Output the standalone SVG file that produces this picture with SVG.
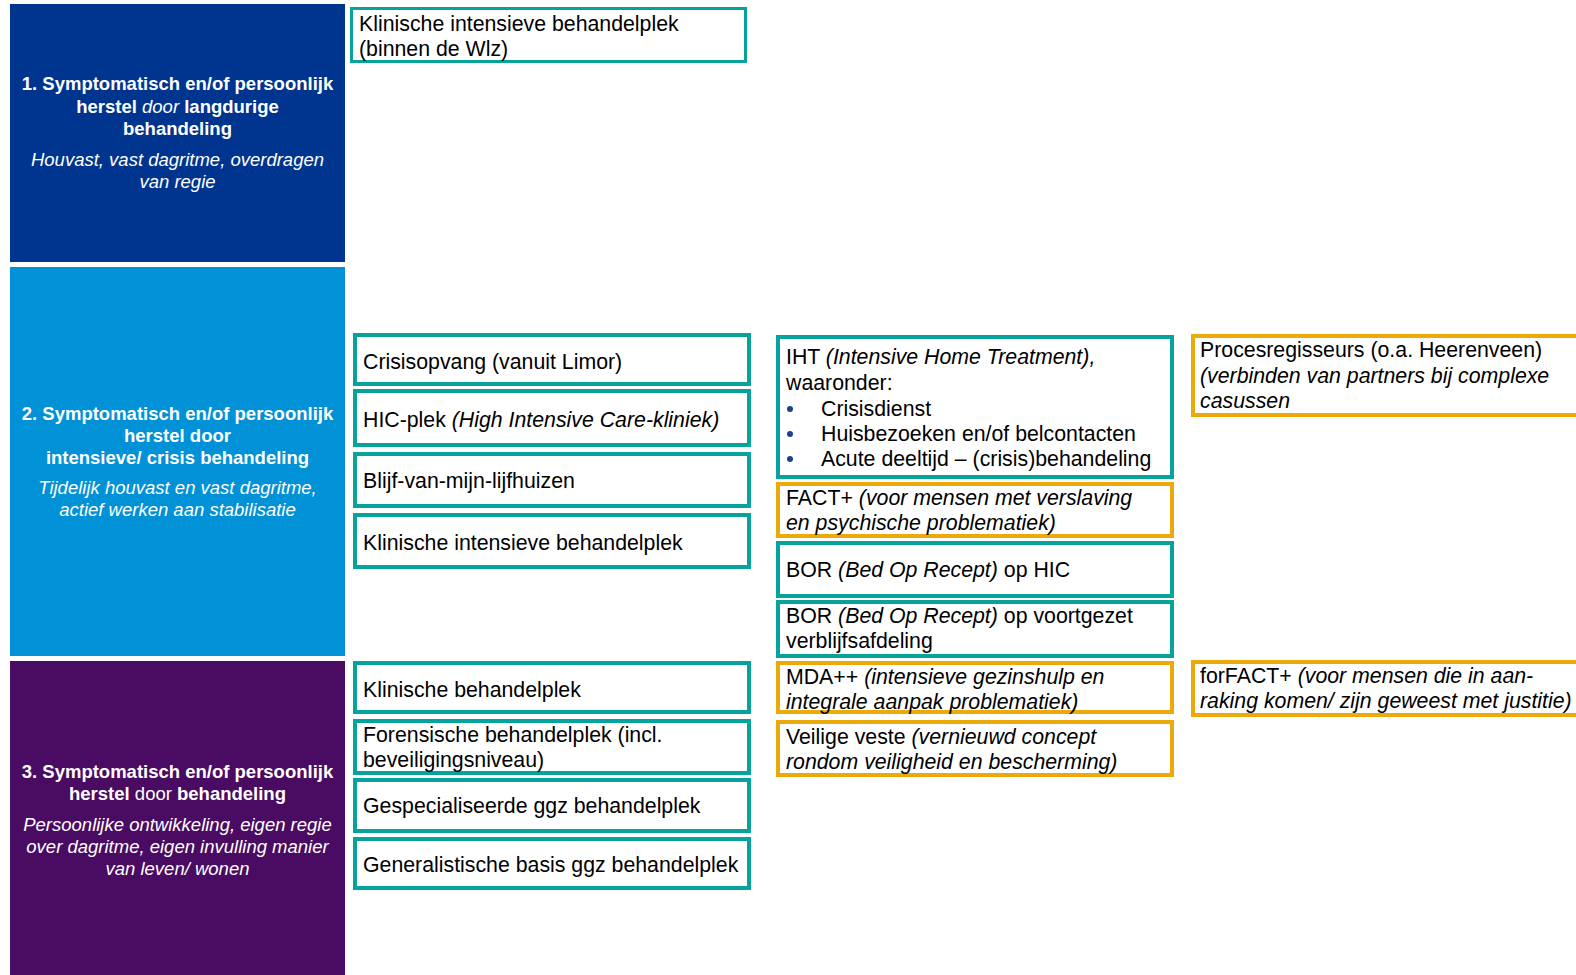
<svg xmlns="http://www.w3.org/2000/svg" width="1576" height="975" viewBox="0 0 1576 975">
<style>
text{font-family:"Liberation Sans",Arial,Helvetica,sans-serif;}
.pt{fill:#fff;font-size:18.5px;text-anchor:middle;}
.b{font-weight:bold;}
.i{font-style:italic;}
.n{font-weight:normal;}
.bx{fill:#fff;stroke-width:4;}
.teal{stroke:#06A39C;}
.org{stroke:#EBAA0A;}
.t{fill:#000;font-size:21.3px;}
.bul{fill:#1F3E96;}
</style>
<rect width="1576" height="975" fill="#fff"/>
<g id="panel1">
<rect x="10" y="4" width="335" height="258" fill="#00358F"/>
<text class="pt b" x="177.5" y="90">1. Symptomatisch en/of persoonlijk</text>
<text class="pt b" x="177.5" y="113">herstel <tspan class="i n">door</tspan> langdurige</text>
<text class="pt b" x="177.5" y="135">behandeling</text>
<text class="pt i" x="177.5" y="166">Houvast, vast dagritme, overdragen</text>
<text class="pt i" x="177.5" y="188">van regie</text>
</g>
<g id="panel2">
<rect x="10" y="267" width="335" height="389" fill="#0091D7"/>
<text class="pt b" x="177.5" y="420">2. Symptomatisch en/of persoonlijk</text>
<text class="pt b" x="177.5" y="442">herstel door</text>
<text class="pt b" x="177.5" y="464">intensieve/ crisis behandeling</text>
<text class="pt i" x="177.5" y="494">Tijdelijk houvast en vast dagritme,</text>
<text class="pt i" x="177.5" y="516">actief werken aan stabilisatie</text>
</g>
<g id="panel3">
<rect x="10" y="661" width="335" height="314" fill="#4A0B62"/>
<text class="pt b" x="177.5" y="778">3. Symptomatisch en/of persoonlijk</text>
<text class="pt b" x="177.5" y="800">herstel<tspan class="n"> door </tspan>behandeling</text>
<text class="pt i" x="177.5" y="831">Persoonlijke ontwikkeling, eigen regie</text>
<text class="pt i" x="177.5" y="853">over dagritme, eigen invulling manier</text>
<text class="pt i" x="177.5" y="875">van leven/ wonen</text>
</g>
<g id="connectors"></g>
<g id="klinisch-wlz">
<rect class="bx teal" x="351.5" y="8.5" width="394" height="53" style="stroke-width:3"/>
<text class="t" x="359" y="31">Klinische intensieve behandelplek</text>
<text class="t" x="359" y="56">(binnen de Wlz)</text>
</g>
<g id="crisisopvang">
<rect class="bx teal" x="355" y="335" width="394" height="49"/>
<text class="t" x="363" y="369">Crisisopvang (vanuit Limor)</text>
</g>
<g id="hic-plek">
<rect class="bx teal" x="355" y="391" width="394" height="54"/>
<text class="t" x="363" y="427">HIC-plek <tspan class="i">(High Intensive Care-kliniek)</tspan></text>
</g>
<g id="blijf-van-mijn-lijf">
<rect class="bx teal" x="355" y="454" width="394" height="52"/>
<text class="t" x="363" y="488">Blijf-van-mijn-lijfhuizen</text>
</g>
<g id="klinisch-intensief">
<rect class="bx teal" x="355" y="515" width="394" height="52"/>
<text class="t" x="363" y="550">Klinische intensieve behandelplek</text>
</g>
<g id="klinisch">
<rect class="bx teal" x="355" y="663" width="394" height="49"/>
<text class="t" x="363" y="697">Klinische behandelplek</text>
</g>
<g id="forensisch">
<rect class="bx teal" x="355" y="721" width="394" height="52"/>
<text class="t" x="363" y="742">Forensische behandelplek (incl.</text>
<text class="t" x="363" y="767">beveiligingsniveau)</text>
</g>
<g id="gespecialiseerd">
<rect class="bx teal" x="355" y="780" width="394" height="51"/>
<text class="t" x="363" y="813">Gespecialiseerde ggz behandelplek</text>
</g>
<g id="generalistisch">
<rect class="bx teal" x="355" y="839" width="394" height="49"/>
<text class="t" x="363" y="872">Generalistische basis ggz behandelplek</text>
</g>
<g id="iht">
<rect class="bx teal" x="778" y="337" width="394" height="140"/>
<text class="t" x="786" y="364">IHT <tspan class="i">(Intensive Home Treatment),</tspan></text>
<text class="t" x="786" y="390">waaronder:</text>
<circle class="bul" cx="790" cy="409" r="3"/>
<text class="t" x="821" y="416">Crisisdienst</text>
<circle class="bul" cx="790" cy="434" r="3"/>
<text class="t" x="821" y="441">Huisbezoeken en/of belcontacten</text>
<circle class="bul" cx="790" cy="459" r="3"/>
<text class="t" x="821" y="466">Acute deeltijd – (crisis)behandeling</text>
</g>
<g id="fact-plus">
<rect class="bx org" x="778" y="484" width="394" height="52"/>
<text class="t" x="786" y="505">FACT+ <tspan class="i">(voor mensen met verslaving</tspan></text>
<text class="t i" x="786" y="530">en psychische problematiek)</text>
</g>
<g id="bor-hic">
<rect class="bx teal" x="778" y="543" width="394" height="53"/>
<text class="t" x="786" y="577">BOR <tspan class="i">(Bed Op Recept)</tspan> op HIC</text>
</g>
<g id="bor-voortgezet">
<rect class="bx teal" x="778" y="602" width="394" height="54"/>
<text class="t" x="786" y="623">BOR <tspan class="i">(Bed Op Recept)</tspan> op voortgezet</text>
<text class="t" x="786" y="648">verblijfsafdeling</text>
</g>
<g id="mda">
<rect class="bx org" x="778" y="663" width="394" height="49"/>
<text class="t" x="786" y="684">MDA++ <tspan class="i">(intensieve gezinshulp en</tspan></text>
<text class="t i" x="786" y="709">integrale aanpak problematiek)</text>
</g>
<g id="veilige-veste">
<rect class="bx org" x="778" y="722" width="394" height="53"/>
<text class="t" x="786" y="744">Veilige veste <tspan class="i">(vernieuwd concept</tspan></text>
<text class="t i" x="786" y="769">rondom veiligheid en bescherming)</text>
</g>
<g id="procesregisseurs">
<rect class="bx org" x="1193" y="336" width="400" height="79"/>
<text class="t" x="1200" y="357">Procesregisseurs (o.a. Heerenveen)</text>
<text class="t i" x="1200" y="383">(verbinden van partners bij complexe</text>
<text class="t i" x="1200" y="408">casussen</text>
</g>
<g id="forfact-plus">
<rect class="bx org" x="1193" y="662" width="400" height="53"/>
<text class="t" x="1200" y="683">forFACT+ <tspan class="i">(voor mensen die in aan-</tspan></text>
<text class="t i" x="1200" y="708">raking komen/ zijn geweest met justitie)</text>
</g>
</svg>
